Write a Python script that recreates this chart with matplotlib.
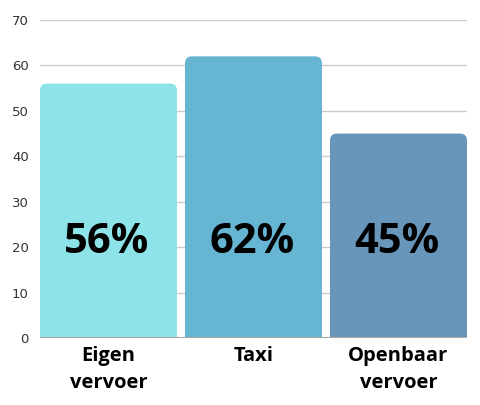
import matplotlib
matplotlib.use("Agg")
import matplotlib.pyplot as plt
from matplotlib.patches import FancyBboxPatch

categories = ["Eigen\nvervoer", "Taxi", "Openbaar\nvervoer"]
values = [56, 62, 45]
colors = ["#8de3e8", "#66b5d3", "#6896ba"]
yticks = [0, 10, 20, 30, 40, 50, 60, 70]

fig = plt.figure(figsize=(4.8, 4.05), dpi=100)
ax = fig.add_axes([40/480, 1-338/405, 427/480, 318/405])

width = 0.945
ax.set_xlim(-width/2, len(values) - 1 + width/2)
ax.set_ylim(0, 70)

for y in yticks[1:]:
    ax.axhline(y, color="#cccccc", lw=1, zorder=0)

# rounded bars, bottom pushed below 0 so only the top corners show
r_x = 0.048
aspect = (70/318) / (1/145)
for i, (v, c) in enumerate(zip(values, colors)):
    p = FancyBboxPatch((i - width/2, -5), width, v + 5,
                       boxstyle="round,pad=0,rounding_size=%f" % r_x,
                       mutation_aspect=aspect, fc=c, ec="none", zorder=2)
    ax.add_patch(p)
    ax.text(i - 0.01, 21, "%d%%" % v, ha="center", va="center", fontsize=30,
            fontweight="bold", family="Open Sans", color="black", zorder=3)

ax.axhline(0, color="#aaaaaa", lw=1.5, zorder=3)

ax.set_yticks(yticks)
ax.set_yticklabels([str(t) for t in yticks], fontsize=9.5, color="#333333")
ax.set_xticks(range(len(values)))
ax.set_xticklabels(categories, fontsize=14.5, fontweight="bold",
                   family="Open Sans", linespacing=1.45)
ax.tick_params(length=0, pad=8)
ax.tick_params(axis="x", pad=6)
for s in ax.spines.values():
    s.set_visible(False)

fig.savefig("out.png", dpi=100)
